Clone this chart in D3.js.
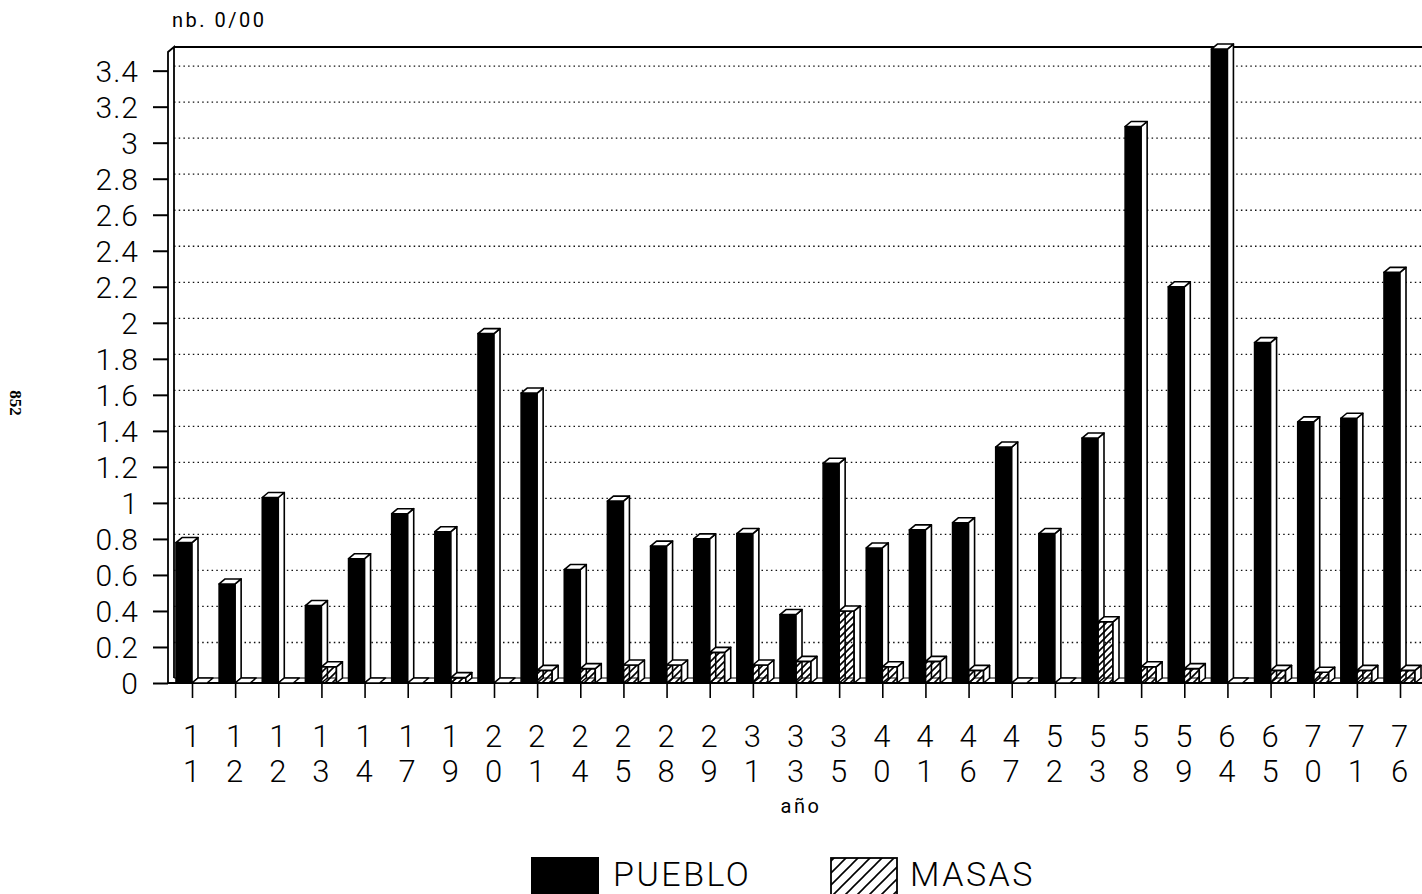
<!DOCTYPE html>
<html>
<head>
<meta charset="utf-8">
<script src="https://cdnjs.cloudflare.com/ajax/libs/d3/7.8.5/d3.min.js"></script>
<style>
  html, body { margin: 0; padding: 0; background: #fff; }
  svg { display: block; font-family: Roboto, "Liberation Sans", sans-serif; font-weight: 300; }
</style>
</head>
<body>
<div id="chart"></div>
<script>
/* Data */
var years  = ['11','12','12','13','14','17','19','20','21','24','25','28','29','31','33',
              '35','40','41','46','47','52','53','58','59','64','65','70','71','76'];
var pueblo = [0.78, 0.55, 1.03, 0.43, 0.69, 0.94, 0.84, 1.94, 1.61, 0.63, 1.01, 0.76, 0.80, 0.83, 0.38,
              1.22, 0.75, 0.85, 0.89, 1.31, 0.83, 1.36, 3.09, 2.20, 3.52, 1.89, 1.45, 1.47, 2.28];
var masas  = [0, 0, 0, 0.09, 0, 0, 0.03, 0, 0.07, 0.08, 0.10, 0.10, 0.17, 0.10, 0.12,
              0.40, 0.09, 0.12, 0.07, 0, 0, 0.34, 0.09, 0.08, 0, 0.07, 0.06, 0.07, 0.07];
var yTicks = [0, 0.2, 0.4, 0.6, 0.8, 1, 1.2, 1.4, 1.6, 1.8, 2, 2.2, 2.4, 2.6, 2.8, 3, 3.2, 3.4];
var seriesNames = ['PUEBLO', 'MASAS'];

var W = 1422, H = 894;
var FX = 168, FY = 683;   // front left / front bottom of the plot box
var DX = 6, DY = 5;       // 3D depth offset
var TOP = 47;

var x = d3.scalePoint().domain(d3.range(years.length)).range([192, 1400]);
var y = d3.scaleLinear().domain([0, 3.5]).range([FY, FY - 3.5 * 180.1]);

var svg = d3.select('#chart').append('svg')
  .attr('width', W).attr('height', H);

svg.append('rect').attr('width', W).attr('height', H).attr('fill', '#fff');

var defs = svg.append('defs');
defs.append('pattern')
  .attr('id', 'hatch').attr('patternUnits', 'userSpaceOnUse')
  .attr('width', 7).attr('height', 7)
  .append('path').attr('d', 'M-1,8 L8,-1 M-2,2 L2,-2 M5,9 L9,5')
  .attr('stroke', '#000').attr('stroke-width', 1.6);
defs.append('pattern')
  .attr('id', 'hatchLegend').attr('patternUnits', 'userSpaceOnUse')
  .attr('width', 12).attr('height', 12)
  .append('path').attr('d', 'M-1,13 L13,-1 M-3,3 L3,-3 M9,15 L15,9')
  .attr('stroke', '#000').attr('stroke-width', 1.6);

/* Back wall grid lines (dotted) */
var grid = svg.append('g')
  .attr('transform', 'translate(' + (FX + DX) + ',' + (-DY) + ')')
  .call(d3.axisLeft(y).tickValues(yTicks.slice(1)).tickSize(-(W - FX - DX)).tickFormat(''));
grid.select('.domain').remove();
grid.selectAll('.tick line')
  .attr('stroke', '#111')
  .attr('stroke-width', 1.3)
  .attr('stroke-dasharray', '1.5,3.2');

/* Frame: top edge, left wall, floor */
var frame = svg.append('g').attr('fill', 'none').attr('stroke', '#000');
frame.append('path')
  .attr('d', 'M' + (FX + DX) + ',' + TOP + 'H' + W)
  .attr('stroke-width', 2);
frame.append('path')
  .attr('d', 'M' + FX + ',' + FY + 'V' + (TOP + DY) + 'L' + (FX + DX) + ',' + TOP + 'V' + (FY - DY))
  .attr('stroke-width', 1.8);
frame.append('path')
  .attr('d', 'M' + (FX + DX) + ',' + (FY - DY) + 'H' + W)
  .attr('stroke-width', 1.2);

/* 3D bars */
function bar3d(g, x0, x1, v, fill) {
  var yt = y(v);
  var b = g.append('g').attr('stroke', '#000').attr('stroke-width', 1.6).attr('stroke-linejoin', 'round');
  if (FY - yt > 0.5) {
    b.append('rect')
      .attr('x', x0).attr('y', yt)
      .attr('width', x1 - x0).attr('height', FY - yt)
      .attr('fill', fill);
    b.append('path')
      .attr('d', 'M' + x1 + ',' + FY + 'V' + yt + 'L' + (x1 + DX) + ',' + (yt - DY) +
        'V' + (FY - DY) + 'Z')
      .attr('fill', '#fff');
  }
  b.append('path')
    .attr('d', 'M' + x0 + ',' + yt + 'H' + x1 + 'L' + (x1 + DX) + ',' + (yt - DY) +
      'H' + (x0 + DX) + 'Z')
    .attr('fill', '#fff');
}

var bars = svg.append('g');
years.forEach(function (yr, i) {
  var cx = x(i);
  bar3d(bars, cx - 16, cx, pueblo[i], '#000');
  bar3d(bars, cx, cx + 15, masas[i], 'url(#hatch)');
});

/* Floor front edge */
frame.append('path')
  .attr('d', 'M' + FX + ',' + FY + 'H' + W)
  .attr('stroke-width', 2);

/* Y axis */
var yAxis = svg.append('g')
  .attr('transform', 'translate(' + FX + ',0)')
  .call(d3.axisLeft(y).tickValues(yTicks).tickSize(15).tickPadding(14)
    .tickFormat(function (d) { return String(+d.toFixed(1)); }));
yAxis.select('.domain').remove();
yAxis.selectAll('.tick line').attr('stroke', '#000').attr('stroke-width', 2);
yAxis.selectAll('.tick text')
  .attr('fill', '#000')
  .attr('font-family', 'Roboto, "Liberation Sans", sans-serif')
  .attr('font-weight', 300)
  .attr('font-size', 30)
  .attr('letter-spacing', 1)
  .attr('dy', '0.36em');

/* X axis: ticks and two-line labels (one digit per row) */
var xAxis = svg.append('g')
  .attr('transform', 'translate(0,' + FY + ')')
  .call(d3.axisBottom(x).tickSize(15).tickFormat(''));
xAxis.select('.domain').remove();
xAxis.selectAll('.tick line').attr('stroke', '#000').attr('stroke-width', 1.6);
xAxis.selectAll('.tick').each(function (i) {
  var tk = d3.select(this);
  [0, 1].forEach(function (row) {
    tk.append('text')
      .attr('fill', '#000')
      .attr('text-anchor', 'middle')
      .attr('font-family', 'Roboto, "Liberation Sans", sans-serif')
      .attr('font-weight', 300)
      .attr('font-size', 31)
      .attr('x', -1)
      .attr('y', row === 0 ? 64 : 99)
      .text(years[i].charAt(row));
  });
});

/* Axis titles */
svg.append('text')
  .attr('x', 172).attr('y', 27)
  .attr('font-size', 20).attr('letter-spacing', 2.5)
  .attr('font-weight', 400)
  .text('nb. 0/00');

svg.append('text')
  .attr('x', 801).attr('y', 813)
  .attr('text-anchor', 'middle')
  .attr('font-size', 20).attr('letter-spacing', 2.5)
  .attr('font-weight', 400)
  .text('año');

/* Page number on the scan margin */
svg.append('text')
  .attr('transform', 'translate(10,403) rotate(90)')
  .attr('text-anchor', 'middle')
  .attr('font-family', '"Liberation Serif", serif')
  .attr('font-weight', 700)
  .attr('font-size', 17)
  .text('852');

/* Legend */
var legend = svg.append('g');
legend.append('rect')
  .attr('x', 531).attr('y', 857).attr('width', 68).attr('height', 42)
  .attr('fill', '#000');
legend.append('text')
  .attr('x', 613).attr('y', 886)
  .attr('font-size', 34).attr('letter-spacing', 2.5)
  .text(seriesNames[0]);
legend.append('rect')
  .attr('x', 831).attr('y', 858).attr('width', 66).attr('height', 40)
  .attr('fill', 'url(#hatchLegend)')
  .attr('stroke', '#000').attr('stroke-width', 1.8);
legend.append('text')
  .attr('x', 910).attr('y', 886)
  .attr('font-size', 34).attr('letter-spacing', 2.5)
  .text(seriesNames[1]);
</script>
</body>
</html>
